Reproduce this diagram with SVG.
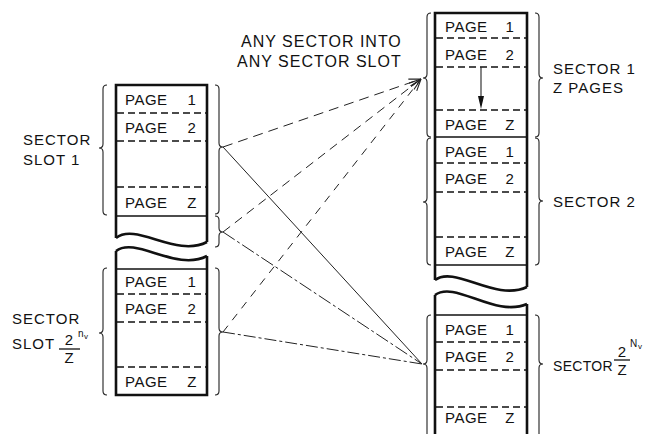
<svg xmlns="http://www.w3.org/2000/svg" width="655" height="434" viewBox="0 0 655 434">
<style>
text{font-family:"Liberation Sans",Arial,sans-serif;fill:#111;}
.pg{font-size:15px;letter-spacing:0.5px;}
.lb{font-size:15px;letter-spacing:1px;}
.fr{font-size:15px;}
.ttl{font-size:16px;letter-spacing:1px;}
.sm{font-size:10px;}
.sub{font-size:8px;}
.box{fill:none;stroke:#111;stroke-width:2.6;stroke-linejoin:miter;}
.sol{stroke:#111;stroke-width:1.6;}
.dsh{stroke:#111;stroke-width:1.5;stroke-dasharray:7 4;}
.br{fill:none;stroke:#222;stroke-width:1.1;}
.bar{stroke:#111;stroke-width:1.3;}
.c{fill:none;stroke:#222;stroke-width:1;}
</style>
<defs>
<marker id="open" viewBox="0 0 12 10" refX="12" refY="5" markerWidth="12" markerHeight="10" markerUnits="userSpaceOnUse" orient="auto">
<path d="M0,1 L12,5 L0,9" fill="none" stroke="#222" stroke-width="1.1"/>
</marker>
</defs>

<g id="title">
<text class="ttl" x="241" y="47">ANY SECTOR INTO</text>
<text class="ttl" x="237" y="67">ANY SECTOR SLOT</text>
</g>

<g id="left-column-break">
<path class="box" d="M116,238 C136,222 176,258 207,242"/>
<path class="box" d="M116,251 C136,236 176,272 207,256"/>
</g>

<g id="sector-slot-1">
<path class="box" d="M116,238 V85 H207 V242"/>
<line class="dsh" x1="117" y1="113" x2="206" y2="113"/>
<line class="dsh" x1="117" y1="141" x2="206" y2="141"/>
<line class="dsh" x1="117" y1="187" x2="206" y2="187"/>
<line class="sol" x1="117" y1="216" x2="206" y2="216"/>
<text class="pg" x="125" y="105">PAGE</text><text class="pg" x="192" y="105" text-anchor="middle">1</text>
<text class="pg" x="125" y="133">PAGE</text><text class="pg" x="192" y="133" text-anchor="middle">2</text>
<text class="pg" x="125" y="208">PAGE</text><text class="pg" x="192" y="208" text-anchor="middle">Z</text>
<path class="br" d="M107,85 Q103,85 103,89 L103,144 Q103,148 99,148 Q103,148 103,152 L103,211 Q103,215 107,215"/>
<path class="br" d="M215,85 Q219,85 219,89 L219,143 Q219,147 223,147 Q219,147 219,151 L219,210 Q219,214 215,214"/>
<path class="br" d="M215,216 Q219,216 219,220 L219,228 Q219,232 223,232 Q219,232 219,236 L219,243 Q219,247 215,247"/>
<text class="lb" x="23" y="145">SECTOR</text>
<text class="lb" x="23" y="165">SLOT 1</text>
</g>

<g id="sector-slot-n">
<path class="box" d="M116,251 V395 H207 V256"/>
<line class="sol" x1="117" y1="269" x2="206" y2="269"/>
<line class="dsh" x1="117" y1="294" x2="206" y2="294"/>
<line class="dsh" x1="117" y1="322" x2="206" y2="322"/>
<line class="dsh" x1="117" y1="367" x2="206" y2="367"/>
<text class="pg" x="125" y="287">PAGE</text><text class="pg" x="192" y="287" text-anchor="middle">1</text>
<text class="pg" x="125" y="314">PAGE</text><text class="pg" x="192" y="314" text-anchor="middle">2</text>
<text class="pg" x="125" y="387">PAGE</text><text class="pg" x="192" y="387" text-anchor="middle">Z</text>
<path class="br" d="M107,268 Q103,268 103,272 L103,329 Q103,333 99,333 Q103,333 103,337 L103,391 Q103,395 107,395"/>
<path class="br" d="M215,268 Q219,268 219,272 L219,328 Q219,332 223,332 Q219,332 219,336 L219,391 Q219,395 215,395"/>
<text class="lb" x="12" y="324">SECTOR</text>
<text class="lb" x="12" y="349">SLOT</text>
<text class="fr" x="69" y="345" text-anchor="middle">2</text>
<line class="bar" x1="59" y1="349" x2="80" y2="349"/>
<text class="fr" x="69" y="363" text-anchor="middle">Z</text>
<text class="sm" x="78" y="337">n</text><text class="sub" x="84" y="339">v</text>
</g>

<g id="right-column-break">
<path class="box" d="M435,280 C455,265 495,302 527,287"/>
<path class="box" d="M435,295 C455,280 495,318 527,304"/>
</g>

<g id="sector-1">
<path class="box" d="M435,280 V13 H527 V287"/>
<line class="dsh" x1="436" y1="38" x2="526" y2="38"/>
<line class="dsh" x1="436" y1="67" x2="526" y2="67"/>
<line class="dsh" x1="436" y1="110" x2="526" y2="110"/>
<line class="sol" x1="436" y1="137" x2="526" y2="137"/>
<text class="pg" x="445" y="32">PAGE</text><text class="pg" x="510" y="32" text-anchor="middle">1</text>
<text class="pg" x="445" y="60">PAGE</text><text class="pg" x="510" y="60" text-anchor="middle">2</text>
<text class="pg" x="445" y="130">PAGE</text><text class="pg" x="510" y="130" text-anchor="middle">Z</text>
<line x1="481" y1="67" x2="481" y2="98" stroke="#222" stroke-width="1.1"/>
<polygon points="478,96 484,96 481,109" fill="#111"/>
<path class="br" d="M431,13 Q427,13 427,17 L427,74 Q427,78 423,78 Q427,78 427,82 L427,133 Q427,137 431,137"/>
<path class="br" d="M535,13 Q539,13 539,17 L539,74 Q539,78 543,78 Q539,78 539,82 L539,133 Q539,137 535,137"/>
<text class="lb" x="553" y="74">SECTOR 1</text>
<text class="lb" x="553" y="93">Z PAGES</text>
</g>

<g id="sector-2">
<line class="dsh" x1="436" y1="163" x2="526" y2="163"/>
<line class="dsh" x1="436" y1="192" x2="526" y2="192"/>
<line class="dsh" x1="436" y1="237" x2="526" y2="237"/>
<line class="sol" x1="436" y1="265" x2="526" y2="265"/>
<text class="pg" x="445" y="157">PAGE</text><text class="pg" x="510" y="157" text-anchor="middle">1</text>
<text class="pg" x="445" y="184">PAGE</text><text class="pg" x="510" y="184" text-anchor="middle">2</text>
<text class="pg" x="445" y="257">PAGE</text><text class="pg" x="510" y="257" text-anchor="middle">Z</text>
<path class="br" d="M431,138 Q427,138 427,142 L427,198 Q427,202 423,202 Q427,202 427,206 L427,261 Q427,265 431,265"/>
<path class="br" d="M535,138 Q539,138 539,142 L539,197 Q539,201 543,201 Q539,201 539,205 L539,261 Q539,265 535,265"/>
<text class="lb" x="553" y="207">SECTOR 2</text>
</g>

<g id="sector-n">
<path class="box" d="M435,295 V436 M527,304 V436"/>
<line class="sol" x1="436" y1="315" x2="526" y2="315"/>
<line class="dsh" x1="436" y1="342" x2="526" y2="342"/>
<line class="dsh" x1="436" y1="370" x2="526" y2="370"/>
<line class="dsh" x1="436" y1="407" x2="526" y2="407"/>
<text class="pg" x="445" y="335">PAGE</text><text class="pg" x="510" y="335" text-anchor="middle">1</text>
<text class="pg" x="445" y="362">PAGE</text><text class="pg" x="510" y="362" text-anchor="middle">2</text>
<text class="pg" x="445" y="423">PAGE</text><text class="pg" x="510" y="423" text-anchor="middle">Z</text>
<path class="br" d="M431,315 Q427,315 427,319 L427,360 Q427,364 423,364 Q427,364 427,368 L427,440"/>
<path class="br" d="M535,315 Q539,315 539,319 L539,360 Q539,364 543,364 Q539,364 539,368 L539,440"/>
<text x="553" y="371" style="font-size:14px;letter-spacing:0.3px">SECTOR</text>
<text class="fr" x="622" y="357" text-anchor="middle">2</text>
<line class="bar" x1="614" y1="360" x2="630" y2="360"/>
<text class="fr" x="622" y="375" text-anchor="middle">Z</text>
<text class="sm" x="630" y="347">N</text><text class="sub" x="638" y="349">v</text>
</g>

<g id="connectors">
<line class="c" x1="223" y1="147" x2="421" y2="79" stroke-dasharray="10 6" marker-end="url(#open)"/>
<line class="c" x1="223" y1="232" x2="421" y2="79" stroke-dasharray="9 6" marker-end="url(#open)"/>
<line class="c" x1="223" y1="332" x2="421" y2="79" stroke-dasharray="8 7" marker-end="url(#open)"/>
<line class="c" x1="223" y1="147" x2="422" y2="364"/>
<line class="c" x1="223" y1="232" x2="422" y2="364" stroke-dasharray="14 3 3 3"/>
<line class="c" x1="223" y1="332" x2="422" y2="364" stroke-dasharray="12 3 3 3"/>
</g>
</svg>
